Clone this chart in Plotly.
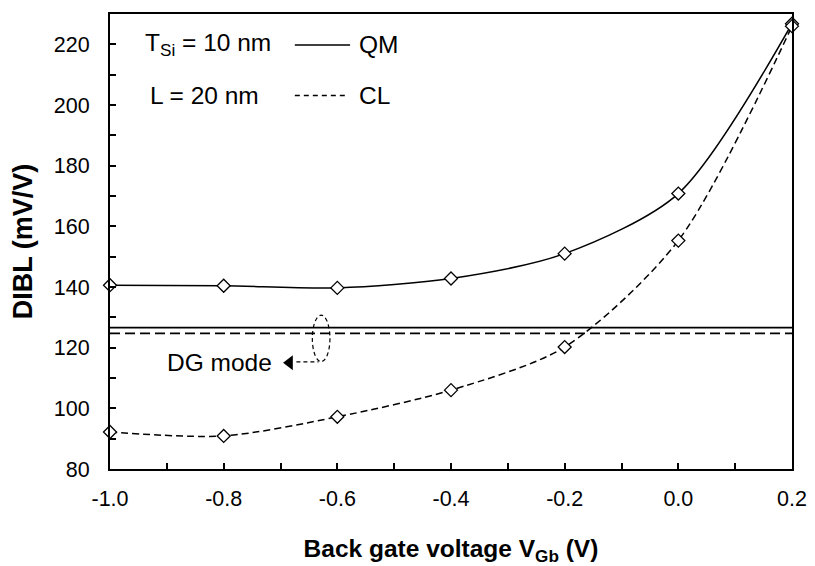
import plotly.graph_objects as go

# ---- data ----
vgb = [-1.0, -0.8, -0.6, -0.4, -0.2, 0.0, 0.2]
dibl_qm = [140.6, 140.4, 139.7, 142.8, 151.0, 170.8, 226.8]
dibl_cl = [92.2, 90.9, 97.2, 106.0, 120.2, 155.3, 226.0]
dg_qm = 126.6
dg_cl = 124.7
x_range = [-1.0, 0.2]
y_range = [80, 230]
x_ticks = [-1.0, -0.8, -0.6, -0.4, -0.2, 0.0, 0.2]
x_ticklabels = ["-1.0", "-0.8", "-0.6", "-0.4", "-0.2", "0.0", "0.2"]
y_ticks = [80, 100, 120, 140, 160, 180, 200, 220]

FONT = "Arial, Liberation Sans, sans-serif"
TICK_SIZE = 21.5
ANN_SIZE = 24.5

fig = go.Figure()

# DG mode reference lines
fig.add_trace(go.Scatter(x=x_range, y=[dg_qm, dg_qm], mode="lines",
                         line=dict(color="black", width=1.8), showlegend=False, hoverinfo="skip"))
fig.add_trace(go.Scatter(x=x_range, y=[dg_cl, dg_cl], mode="lines",
                         line=dict(color="black", width=1.8, dash="10px,5px"), showlegend=False, hoverinfo="skip"))

# curves
fig.add_trace(go.Scatter(x=vgb, y=dibl_qm, mode="lines+markers", name="QM",
                         line=dict(color="black", width=1.5, shape="spline", smoothing=0.8),
                         marker=dict(symbol="diamond", size=10, color="white",
                                     line=dict(color="black", width=1.3)),
                         cliponaxis=False, showlegend=False))
fig.add_trace(go.Scatter(x=vgb, y=dibl_cl, mode="lines+markers", name="CL",
                         line=dict(color="black", width=1.5, dash="7px,4px", shape="spline", smoothing=0.8),
                         marker=dict(symbol="diamond", size=10, color="white",
                                     line=dict(color="black", width=1.3)),
                         cliponaxis=False, showlegend=False))

# arrow head for DG mode callout
fig.add_trace(go.Scatter(x=[-0.684], y=[115.0], mode="markers",
                         marker=dict(symbol="triangle-left", size=13, color="black"),
                         showlegend=False, hoverinfo="skip"))

shapes = [
    # dashed ellipse around DG lines
    dict(type="circle", xref="x", yref="y", x0=-0.644, x1=-0.613, y0=115.4, y1=130.7,
         line=dict(color="black", width=1.2, dash="4px,3px")),
    # dashed callout line
    dict(type="line", xref="x", yref="y", x0=-0.672, x1=-0.633, y0=115.3, y1=115.3,
         line=dict(color="black", width=1.2, dash="4px,3px")),
    # legend samples
    dict(type="line", xref="paper", yref="paper", x0=0.271, x1=0.352, y0=0.932, y1=0.932,
         line=dict(color="black", width=1.5)),
    dict(type="line", xref="paper", yref="paper", x0=0.271, x1=0.350, y0=0.821, y1=0.821,
         line=dict(color="black", width=1.5, dash="5px,4px")),
]

annotations = [
    dict(text="T<sub>Si</sub> = 10 nm", xref="paper", yref="paper", x=0.048, y=0.932,
         xanchor="left", yanchor="middle", showarrow=False, font=dict(size=ANN_SIZE, family=FONT)),
    dict(text="L = 20 nm", xref="paper", yref="paper", x=0.056, y=0.821,
         xanchor="left", yanchor="middle", showarrow=False, font=dict(size=ANN_SIZE, family=FONT)),
    dict(text="QM", xref="paper", yref="paper", x=0.362, y=0.932,
         xanchor="left", yanchor="middle", showarrow=False, font=dict(size=ANN_SIZE, family=FONT)),
    dict(text="CL", xref="paper", yref="paper", x=0.362, y=0.821,
         xanchor="left", yanchor="middle", showarrow=False, font=dict(size=ANN_SIZE, family=FONT)),
    dict(text="DG mode", xref="x", yref="y", x=-0.712, y=115.0,
         xanchor="right", yanchor="middle", showarrow=False, font=dict(size=ANN_SIZE, family=FONT)),
]

# page body has an 8px margin: compensate so the plot area lands where it should
fig.update_layout(
    width=807, height=558,
    margin=dict(l=102, r=23, t=4, b=96),
    plot_bgcolor="white", paper_bgcolor="white",
    font=dict(family=FONT, size=TICK_SIZE, color="black"),
    shapes=shapes, annotations=annotations,
    showlegend=False,
)

fig.update_xaxes(
    range=x_range, tickvals=x_ticks, ticktext=x_ticklabels,
    ticks="inside", ticklen=6, tickwidth=1.5, tickcolor="black",
    minor=dict(dtick=0.1, ticks="inside", ticklen=6, tickwidth=1.5, tickcolor="black"),
    showline=True, linecolor="black", linewidth=2, mirror=True,
    showgrid=False, zeroline=False,
    tickfont=dict(size=TICK_SIZE, family=FONT), ticklabelstandoff=9,
    title=dict(text="<b>Back gate voltage V<sub>Gb</sub> (V)</b>", font=dict(size=24.5, family=FONT), standoff=34),
)
fig.update_yaxes(
    range=y_range, tickvals=y_ticks,
    ticks="inside", ticklen=6, tickwidth=1.5, tickcolor="black",
    minor=dict(dtick=10, ticks="inside", ticklen=6, tickwidth=1.5, tickcolor="black"),
    showline=True, linecolor="black", linewidth=2, mirror=True,
    showgrid=False, zeroline=False,
    tickfont=dict(size=TICK_SIZE, family=FONT), ticklabelstandoff=14,
    title=dict(text="<b>DIBL (mV/V)</b>", font=dict(size=27, family=FONT), standoff=18),
)

fig.write_html("out.html")
